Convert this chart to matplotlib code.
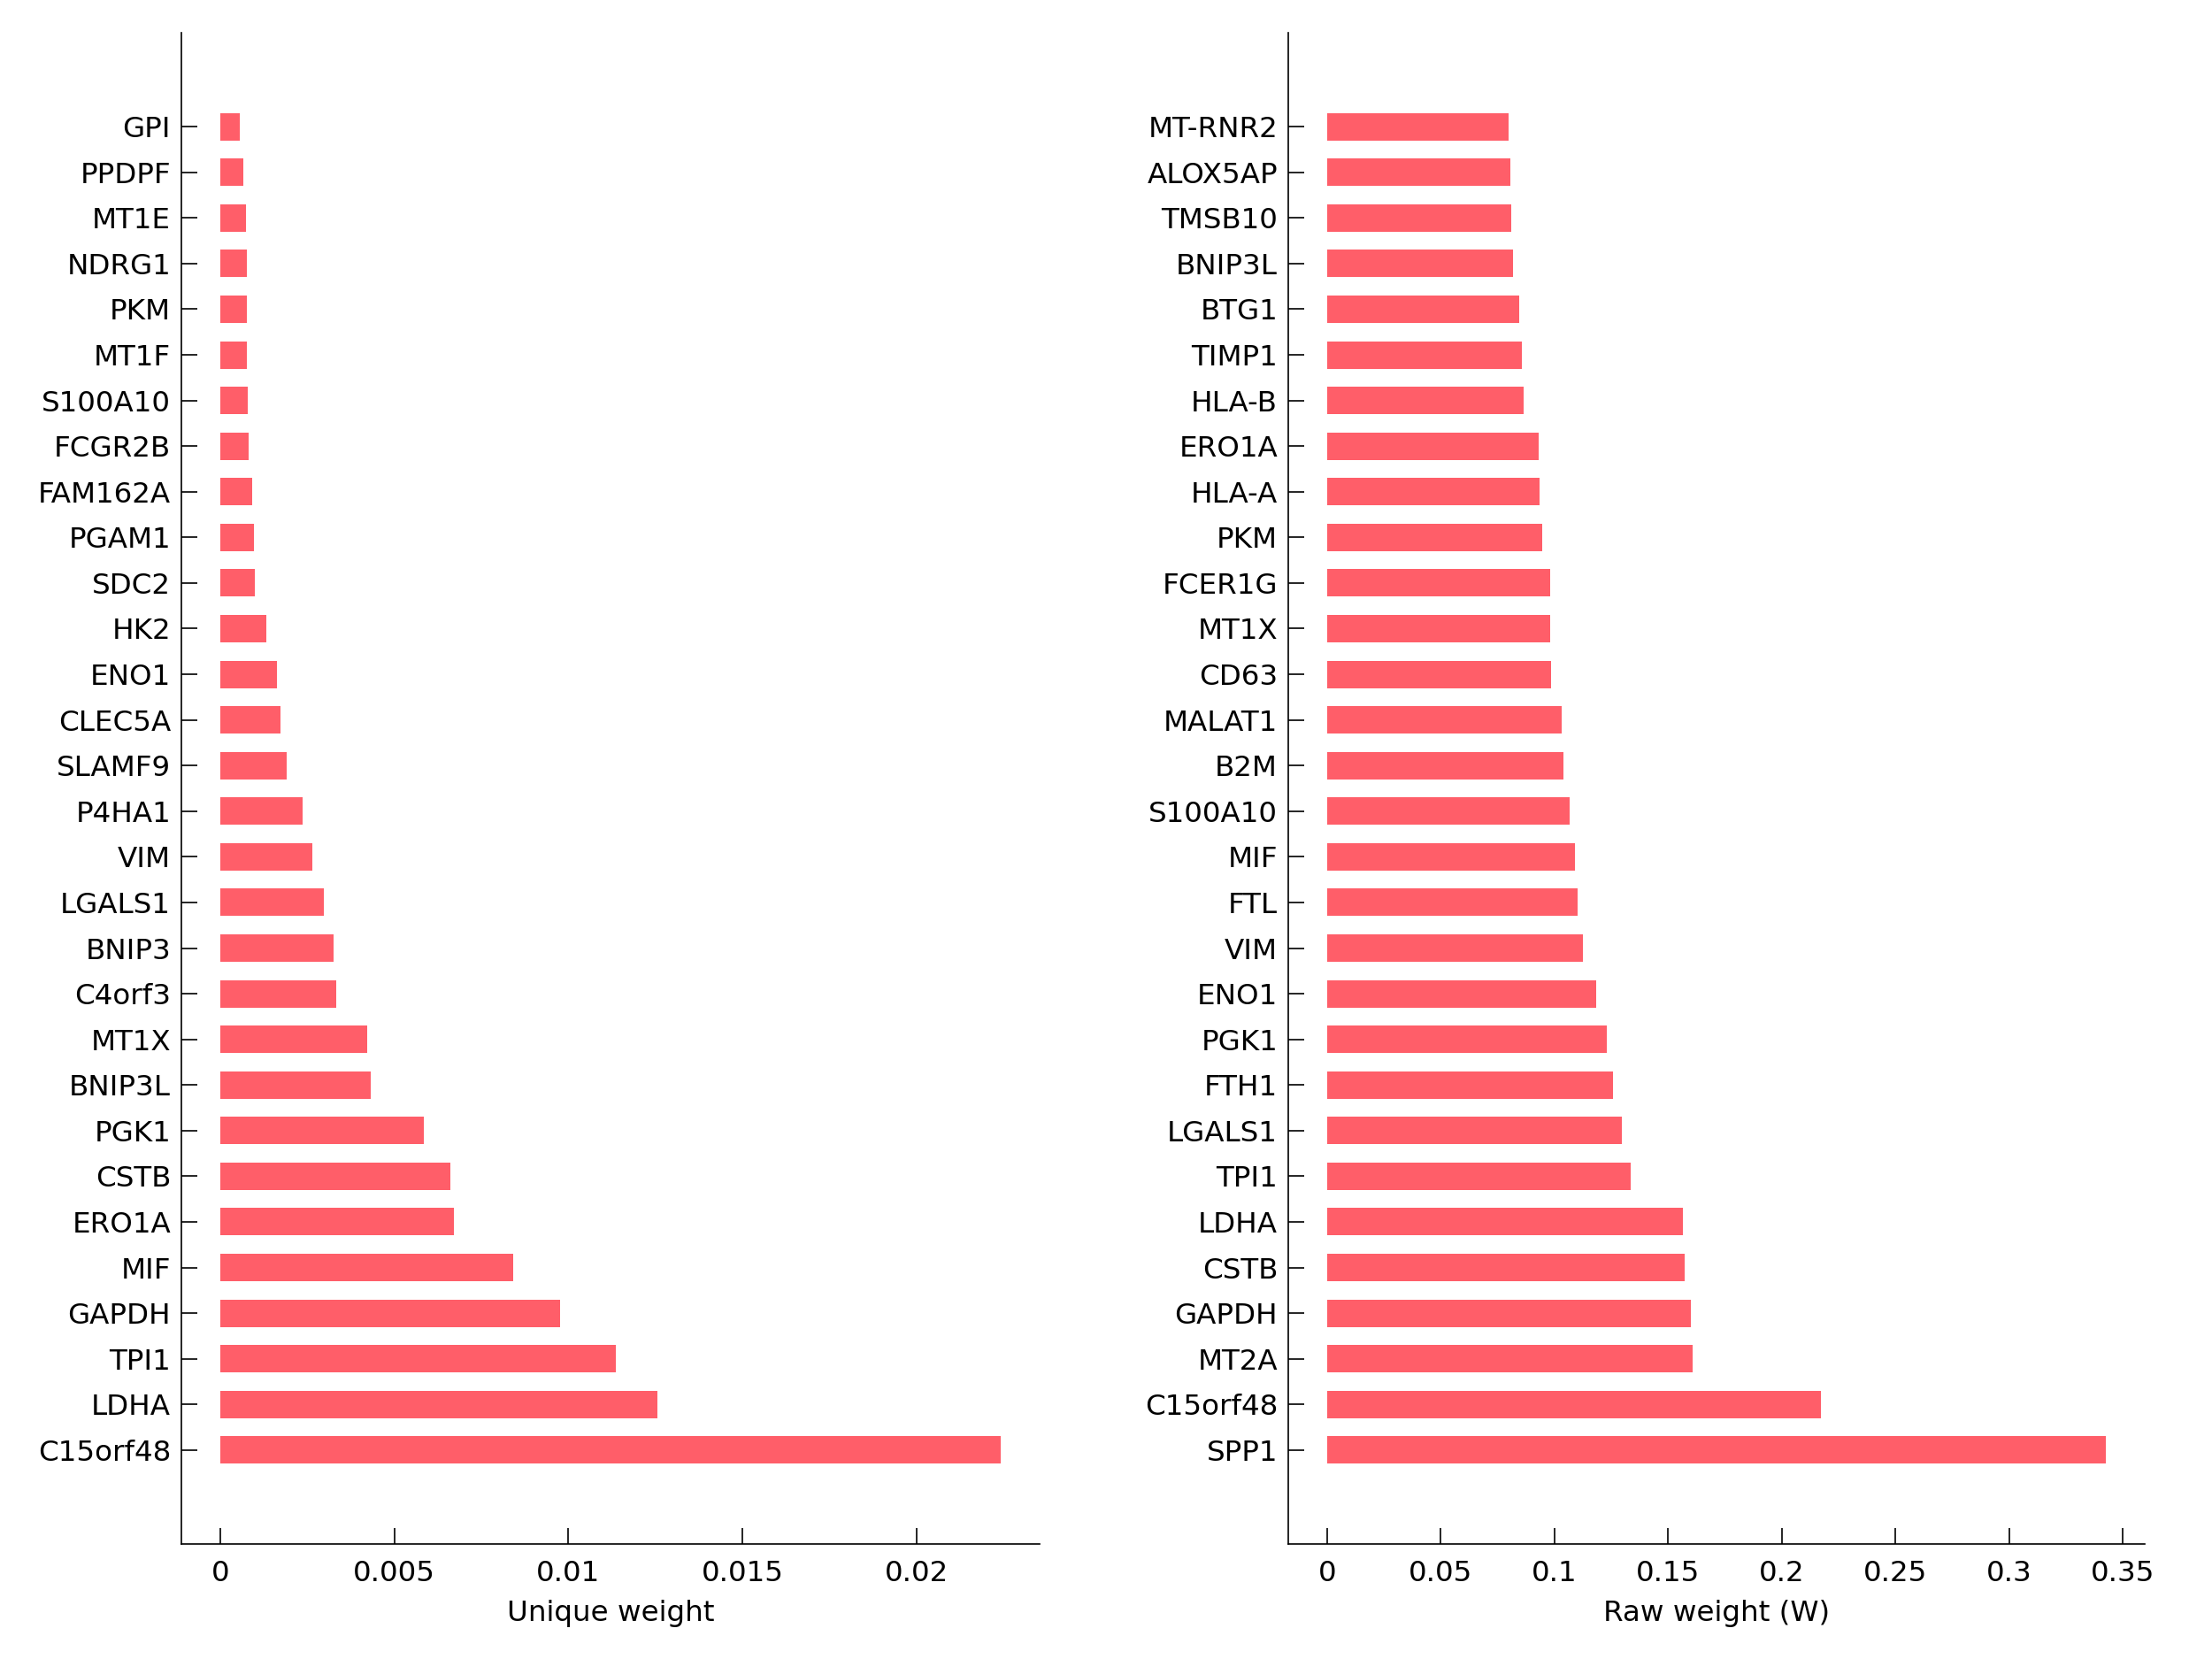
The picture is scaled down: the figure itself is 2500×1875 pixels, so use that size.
import matplotlib
matplotlib.use("Agg")
import matplotlib.pyplot as plt
from matplotlib.ticker import MultipleLocator, FuncFormatter
import numpy as np

# Left panel (top to bottom)
unique_genes = ["GPI", "PPDPF", "MT1E", "NDRG1", "PKM", "MT1F", "S100A10", "FCGR2B",
                "FAM162A", "PGAM1", "SDC2", "HK2", "ENO1", "CLEC5A", "SLAMF9", "P4HA1",
                "VIM", "LGALS1", "BNIP3", "C4orf3", "MT1X", "BNIP3L", "PGK1", "CSTB",
                "ERO1A", "MIF", "GAPDH", "TPI1", "LDHA", "C15orf48"]
unique_weight = [0.00056, 0.00066, 0.00074, 0.00075, 0.00076, 0.00076, 0.00078, 0.000814,
                 0.000924, 0.000959, 0.0010, 0.001315, 0.00162, 0.00172, 0.0019, 0.00235,
                 0.00263, 0.00296, 0.00326, 0.00334, 0.00422, 0.00431, 0.00584, 0.0066,
                 0.00672, 0.00842, 0.00977, 0.01135, 0.01257, 0.02242]

# Right panel (top to bottom)
raw_genes = ["MT-RNR2", "ALOX5AP", "TMSB10", "BNIP3L", "BTG1", "TIMP1", "HLA-B", "ERO1A",
             "HLA-A", "PKM", "FCER1G", "MT1X", "CD63", "MALAT1", "B2M", "S100A10", "MIF",
             "FTL", "VIM", "ENO1", "PGK1", "FTH1", "LGALS1", "TPI1", "LDHA", "CSTB",
             "GAPDH", "MT2A", "C15orf48", "SPP1"]
raw_weight = [0.0798, 0.0807, 0.0810, 0.0819, 0.0844, 0.0856, 0.0864, 0.0929,
              0.0934, 0.0946, 0.0980, 0.0982, 0.0986, 0.1030, 0.1041, 0.1068, 0.1089,
              0.1102, 0.1126, 0.1185, 0.1232, 0.1259, 0.1298, 0.1337, 0.1565, 0.1574,
              0.1601, 0.1609, 0.2172, 0.3426]

bar_color = "#ff5e69"
plt.rcParams["font.family"] = ["DejaVu Sans"]

fig = plt.figure(figsize=(12.5, 9.375), dpi=200)
ax1 = fig.add_axes([0.082, 0.0693, 0.388, 0.911])
ax2 = fig.add_axes([0.5824, 0.0693, 0.3872, 0.911])

def fmt(v, pos):
    return "%g" % round(v, 6)

def draw(ax, genes, vals, xlabel, major):
    n = len(genes)
    y = np.arange(n)[::-1]
    ax.barh(y, vals, height=0.6, color=bar_color, edgecolor="none")
    ax.set_yticks(y)
    ax.set_yticklabels(genes)
    ax.set_ylim(-2.06, n - 1 + 2.06)
    vmax = max(vals)
    ax.set_xlim(-0.05 * vmax, 1.05 * vmax)
    ax.xaxis.set_major_locator(MultipleLocator(major))
    ax.xaxis.set_major_formatter(FuncFormatter(fmt))
    ax.set_xlabel(xlabel, fontsize=11.7, labelpad=5)
    for side in ["top", "right"]:
        ax.spines[side].set_visible(False)
    for side in ["left", "bottom"]:
        ax.spines[side].set_linewidth(0.6)
    ax.tick_params(axis="both", direction="in", length=6.5, width=0.6,
                   labelsize=11.7, colors="black")
    ax.tick_params(axis="y", pad=4.3)
    ax.tick_params(axis="x", pad=6.5)

draw(ax1, unique_genes, unique_weight, "Unique weight", 0.005)
draw(ax2, raw_genes, raw_weight, "Raw weight (W)", 0.05)

fig.savefig("out.png", dpi=200, facecolor="white")
